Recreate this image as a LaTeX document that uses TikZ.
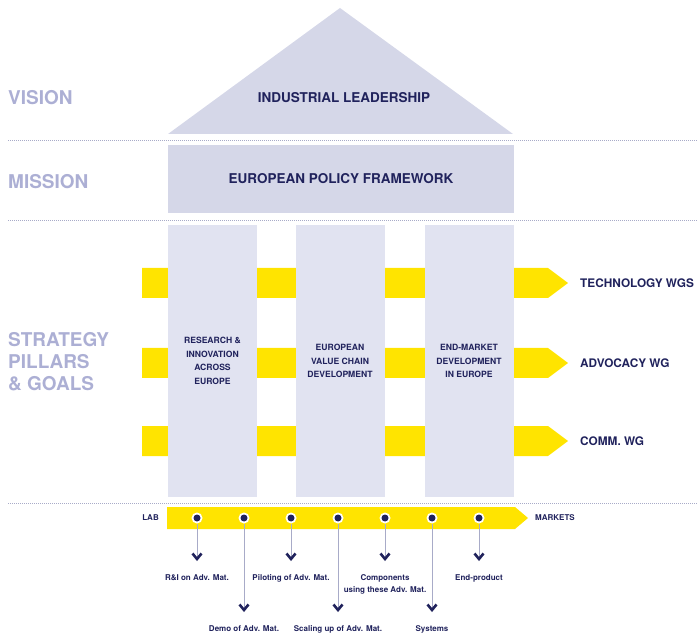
\documentclass[tikz,border=0pt]{standalone}
\usepackage{fontspec}
\setmainfont{TeX Gyre Heros}
\definecolor{navy}{RGB}{32,34,92}
\definecolor{rooffill}{RGB}{213,215,232}
\definecolor{pillarfill}{RGB}{225,227,241}
\definecolor{headgray}{RGB}{172,175,212}
\definecolor{goalyellow}{RGB}{255,228,0}
\definecolor{stemgray}{RGB}{168,171,200}

\begin{document}
\begin{tikzpicture}[x=1pt,y=-1pt,>=latex]
        % Styles
        \tikzstyle{level} = [anchor=west, text=headgray, inner sep=0pt,
                             align=left, font=\fontsize{19}{22}\selectfont\bfseries]
        \tikzstyle{title} = [text=navy, inner sep=0pt, font=\fontsize{13.5}{16}\selectfont\bfseries]
        \tikzstyle{pillar} = [rectangle, fill=pillarfill, minimum width=89pt,
                              minimum height=272pt, inner sep=0pt, align=center,
                              text=navy, font=\fontsize{8.6}{13.7}\selectfont\bfseries]
        \tikzstyle{wg} = [anchor=west, text=navy, inner sep=0pt, font=\fontsize{11.8}{14}\selectfont\bfseries]
        \tikzstyle{small} = [text=navy, inner sep=0pt, align=center, font=\fontsize{8}{12}\selectfont\bfseries]
        \tikzstyle{separator} = [stemgray, line width=0.7pt, dash pattern=on 0.8pt off 1.2pt]
        \tikzstyle{goal} = [fill=goalyellow]
        \tikzstyle{stem} = [stemgray, line width=0.8pt]
        \tikzstyle{chevron} = [navy, line width=2.6pt]
        \useasboundingbox (0,0) rectangle (697,639);

        % ==== Levels ====
        \node[level] (vision)   at (8,98)  {VISION};
        \node[level] (mission)  at (8,182) {MISSION};
        \node[level] (strategy) at (8,362) {STRATEGY\\PILLARS\\\& GOALS};

        \draw[separator] (8,140) -- (697,140);
        \draw[separator] (8,220) -- (697,220);
        \draw[separator] (8,503) -- (697,503);

        % ==== Roof and mission ====
        \fill[rooffill] (168,134) -- (340,8) -- (513,134) -- cycle;
        \node[title] (leadership) at (344,98) {INDUSTRIAL LEADERSHIP};
        \node[rectangle, fill=rooffill, minimum width=346pt, minimum height=68pt] (framework) at (341,179) {};
        \node[title] at (framework) {EUROPEAN POLICY FRAMEWORK};

        % ==== Goal bars (behind the pillars) ====
        \foreach \y/\name/\txt in {283/tech/TECHNOLOGY WGS, 363/advocacy/ADVOCACY WG, 441/comm/COMM. WG} {
            \path[goal] (142,\y-15) -- (548,\y-15) -- (568,\y) -- (548,\y+15) -- (142,\y+15) -- cycle;
            \node[wg] (\name) at (580,\y) {\txt};
        }

        % ==== Pillars ====
        \node[pillar] (research) at (212.5,361) {RESEARCH \&\\INNOVATION\\ACROSS\\EUROPE};
        \node[pillar] (valuechain) at (340,361) {EUROPEAN\\VALUE CHAIN\\DEVELOPMENT};
        \node[pillar] (endmarket) at (469,361) {END-MARKET\\DEVELOPMENT\\IN EUROPE};

        % ==== Lab to market ====
        \path[goal] (167,507) -- (515,507) -- (528,518) -- (515,529) -- (167,529) -- cycle;
        \node[small, anchor=east] (lab) at (159,518) {LAB};
        \node[small, anchor=west] (markets) at (535,518) {MARKETS};

        \foreach \i/\d/\txt in {1/559/{R\&I on Adv. Mat.}, 2/610/{Demo of Adv. Mat.},
                                3/559/{Piloting of Adv. Mat.}, 4/610/{Scaling up of Adv. Mat.},
                                5/559/{Components\\using these Adv. Mat.}, 6/610/{Systems},
                                7/559/{End-product}} {
            \pgfmathsetmacro{\x}{197+47*(\i-1)}
            \node[circle, fill=white, minimum size=11pt, inner sep=0pt] (c\i) at (\x,518) {};
            \fill[navy] (c\i) circle (3.5);
            \coordinate (v\i) at (\x,\d);
            \draw[stem] (c\i.south) -- (v\i);
            \draw[chevron] (\x-4.5,\d-5.5) -- (v\i) -- (\x+4.5,\d-5.5);
            \node[small, anchor=north] (l\i) at (\x,\d+15) {\txt};
        }
    \end{tikzpicture}
\end{document}
